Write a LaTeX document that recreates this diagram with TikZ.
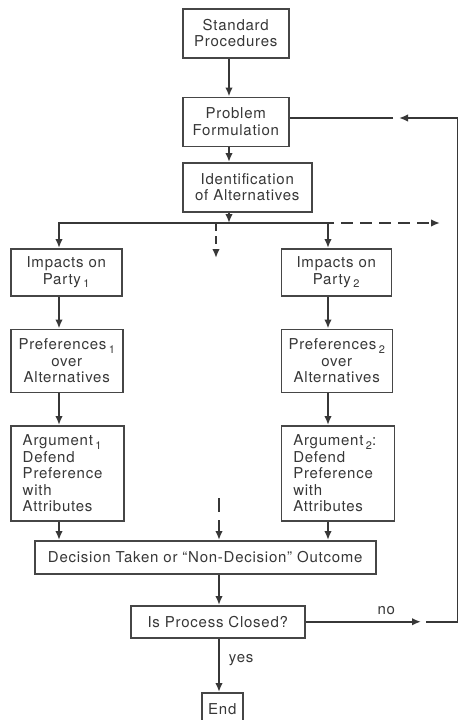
\documentclass[tikz,border=0pt]{standalone}
\usepackage{fontspec}
\setmainfont{TeX Gyre Heros}[LetterSpace=5]
\usetikzlibrary{arrows.meta,positioning}
\definecolor{inkgray}{RGB}{55,55,55}
\definecolor{boxedge}{RGB}{70,70,70}
\newcommand{\flowfont}{\fontsize{15}{16.5}\selectfont}
\newcommand{\lowsub}[1]{\,\raisebox{-0.45ex}{\fontsize{11}{11}\selectfont #1}}
\tikzset{
  basebox/.style={rectangle,draw=boxedge,line width=1.5pt,fill=white,align=center,inner sep=0pt,text=inkgray,font=\flowfont},
  stagebox/.style={basebox,minimum width=106pt,minimum height=49pt},
  partybox/.style={basebox,minimum width=111pt,minimum height=47pt},
  prefbox/.style={basebox,minimum width=112pt,minimum height=63pt},
  argbox/.style={basebox,align=left,text width=89pt,inner xsep=12pt,minimum height=95pt},
  arr/.style={-{Latex[length=9pt,width=7.5pt]},line width=1.8pt,color=inkgray},
  dasharr/.style={arr,dash pattern=on 12pt off 7pt},
  plainline/.style={line width=1.8pt,color=inkgray},
  lbl/.style={font=\flowfont,text=inkgray,inner sep=0pt}
}

\begin{document}
\begin{tikzpicture}[x=1pt,y=-1pt,node distance=32pt]
  \useasboundingbox[fill=white] (0,0) rectangle (459,720);
  % spines and columns
  \coordinate (topspine) at (229,0);
  \coordinate (botspine) at (219,0);
  \coordinate (leftcol) at (59,0);
  \coordinate (rightcol) at (328,0);
  \coordinate (edge) at (457.5,0);
  % main chain
  \node[stagebox,anchor=north west] (std) at (182,8) {Standard\\Procedures};
  \node[stagebox,below=38pt of std] (prob) {Problem\\Formulation};
  \node[stagebox,minimum width=129pt,below right=15pt and 0pt of prob.south west] (alt) {Identification\\of Alternatives};
  \coordinate (bus) at (229,223);
  \coordinate (busend) at (334,223);
  \coordinate (busout) at (440,223);
  % two parties
  \node[partybox,anchor=north west] (imp1) at (10,248) {Impacts on\\Party\lowsub{1}};
  \node[prefbox,below right=32pt and 0pt of imp1.south west] (pref1) {Preferences\lowsub{1}\\over\\Alternatives};
  \node[argbox,below right=32pt and 0pt of pref1.south west] (arg1) {Argument\lowsub{1}\\Defend\\Preference\\with\\Attributes};
  \node[partybox,minimum width=110pt,right=158pt of imp1] (imp2) {Impacts on\\Party\lowsub{2}};
  \node[prefbox,minimum width=111pt,below right=32pt and 0pt of imp2.south west] (pref2) {Preferences\lowsub{2}\\over\\Alternatives};
  \node[argbox,below right=32pt and 0pt of pref2.south west] (arg2) {Argument\lowsub{2}:\\Defend\\Preference\\with\\Attributes};
  % outcome
  \node[basebox,minimum width=341pt,minimum height=33pt,anchor=north west] (dec) at (34,540) {Decision Taken or ``Non-Decision'' Outcome};
  \node[basebox,minimum width=174pt,minimum height=32pt,anchor=north west] (closed) at (130,605) {Is Process Closed?};
  \node[basebox,minimum width=41pt,minimum height=32pt,anchor=north west] (end) at (201,692) {End};
  \coordinate (loose1) at (216,258);
  \coordinate (loose2) at (219,498);
  \coordinate (notip) at (421,0);
  \coordinate (noback) at (426,0);
  \coordinate (fbtip) at (399,118);
  \coordinate (fbback) at (393,118);

  \draw[arr] (std.south -| topspine) -- (prob.north -| topspine);
  \draw[arr] (prob.south -| topspine) -- (alt.north -| topspine);
  \draw[arr] (alt.south -| topspine) -- (bus);
  \draw[arr] (busend) -| (imp1.north -| leftcol);
  \draw[arr] (bus -| rightcol) -- (imp2.north -| rightcol);
  \draw[dasharr,dash phase=12pt] (busend) -- (busout);
  \draw[dasharr,dash pattern=on 8pt off 5pt] (loose1 |- bus) -- (loose1);
  \foreach \a/\b/\c in {imp1/pref1/leftcol,pref1/arg1/leftcol,arg1/dec/leftcol,imp2/pref2/rightcol,pref2/arg2/rightcol,arg2/dec/rightcol}
    \draw[arr] (\a.south -| \c) -- (\b.north -| \c);
  \draw[dasharr,dash pattern=on 14pt off 8pt] (loose2) -- (dec.north -| botspine);
  \draw[arr] (dec.south -| botspine) -- (closed.north -| botspine);
  \draw[arr] (closed.south -| botspine) -- node[lbl,right=9pt,pos=0.4] {yes} (end.north -| botspine);
  % loop back when not closed
  \draw[arr] (closed.east) -- node[lbl,above=6pt,pos=0.7] {no} (closed.east -| notip);
  \draw[arr] (closed.east -| noback) -- (closed.east -| edge) -- (edge |- fbtip) -- (fbtip);
  \draw[plainline] (fbback) -- (fbback -| prob.east);
\end{tikzpicture}
\end{document}
